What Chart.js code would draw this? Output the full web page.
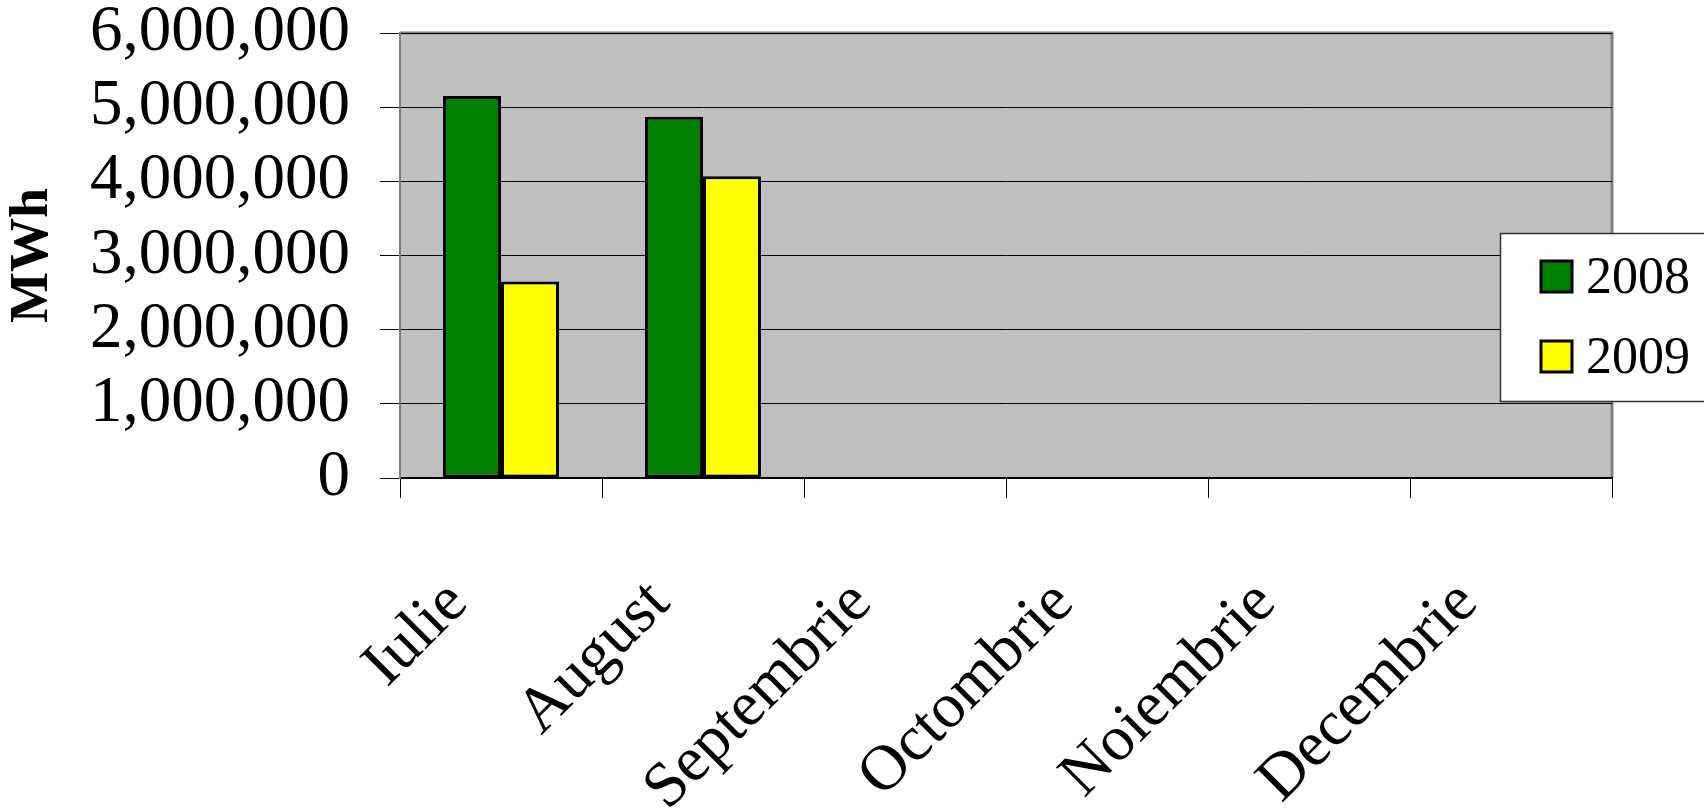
<!DOCTYPE html>
<html>
<head>
<meta charset="utf-8">
<script src="https://cdn.jsdelivr.net/npm/chart.js@4.4.1/dist/chart.umd.min.js"></script>
<style>
html,body{margin:0;padding:0;background:#fff;}
#wrap{position:relative;width:1704px;height:812px;}
</style>
</head>
<body>
<div id="wrap"><canvas id="c" width="1704" height="812"></canvas></div>
<script>
const categories = ["Iulie", "August", "Septembrie", "Octombrie", "Noiembrie", "Decembrie"];
const seriesLabels = ["2008", "2009"];
const values2008 = [5150000, 4870000, null, null, null, null];
const values2009 = [2650000, 4070000, null, null, null, null];
const yTicks = [0, 1000000, 2000000, 3000000, 4000000, 5000000, 6000000];
const seriesColors = ["#008000", "#FFFF00"];

const SERIF = "'Liberation Serif', 'Times New Roman', serif";

const bgPlugin = {
  id: 'plotBg',
  beforeDraw(chart) {
    const {ctx, chartArea: a} = chart;
    ctx.save();
    ctx.fillStyle = '#C0C0C0';
    ctx.fillRect(a.left, a.top, a.right - a.left, a.bottom - a.top);
    ctx.strokeStyle = '#808080';
    ctx.lineWidth = 3;
    ctx.beginPath();
    ctx.moveTo(a.left, a.top);
    ctx.lineTo(a.right, a.top);
    ctx.lineTo(a.right, a.bottom);
    ctx.stroke();
    ctx.restore();
  }
};

const legendPlugin = {
  id: 'customLegend',
  afterDraw(chart) {
    const {ctx} = chart;
    ctx.save();
    const bx = 1500, by = 233, bw = 230, bh = 168;
    ctx.fillStyle = '#fff';
    ctx.fillRect(bx, by, bw, bh);
    ctx.strokeStyle = '#333';
    ctx.lineWidth = 1.5;
    ctx.strokeRect(bx + 0.5, by + 0.5, bw, bh);
    chart.data.datasets.forEach((ds, i) => {
      const sy = 261 + i * 80;
      ctx.fillStyle = ds.backgroundColor;
      ctx.fillRect(1541, sy, 31, 31);
      ctx.strokeStyle = '#000';
      ctx.lineWidth = 3;
      ctx.strokeRect(1541, sy, 31, 31);
      ctx.fillStyle = '#000';
      ctx.font = '52px ' + SERIF;
      ctx.textBaseline = 'alphabetic';
      ctx.textAlign = 'left';
      ctx.fillText(ds.label, 1586, sy + 32);
    });
    ctx.restore();
  }
};

new Chart(document.getElementById('c'), {
  type: 'bar',
  data: {
    labels: categories,
    datasets: [
      {label: seriesLabels[0], data: values2008, backgroundColor: seriesColors[0], borderColor: '#000', borderWidth: 3, borderSkipped: false},
      {label: seriesLabels[1], data: values2009, backgroundColor: seriesColors[1], borderColor: '#000', borderWidth: 3, borderSkipped: false}
    ]
  },
  plugins: [bgPlugin, legendPlugin],
  options: {
    responsive: false,
    animation: false,
    devicePixelRatio: 1,
    layout: {padding: {top: 33, right: 92, left: 0, bottom: 0}},
    plugins: {legend: {display: false}, tooltip: {enabled: false}},
    datasets: {bar: {categoryPercentage: 0.574, barPercentage: 1.0}},
    scales: {
      x: {
        offset: true,
        grid: {display: true, drawOnChartArea: false, drawTicks: true, tickLength: 20, color: '#000', lineWidth: 1, offset: true},
        border: {display: true, color: '#000', width: 2},
        ticks: {
          color: '#000',
          font: {family: SERIF, size: 64},
          minRotation: 45, maxRotation: 45,
          padding: 68,
          labelOffset: -43,
          autoSkip: false
        },
        afterFit(scale) { scale.height = 334; scale.paddingLeft = 0; scale.paddingRight = 0; }
      },
      y: {
        min: 0, max: 6000000,
        afterBuildTicks(scale) { scale.ticks = yTicks.map(v => ({value: v})); },
        grid: {color: '#000', lineWidth: 1, drawTicks: true, tickLength: 20},
        border: {display: true, color: '#808080', width: 2},
        ticks: {
          color: '#000',
          font: {family: SERIF, size: 65},
          padding: 30,
          autoSkip: false,
          callback: v => v.toLocaleString('en-US')
        },
        title: {display: true, text: 'MWh', color: '#000', font: {family: SERIF, size: 54, weight: 'bold'}, padding: {top: 1, bottom: 0}},
        afterFit(scale) { scale.width = 400; scale.paddingTop = 0; scale.paddingBottom = 0; }
      }
    }
  }
});
</script>
</body>
</html>
